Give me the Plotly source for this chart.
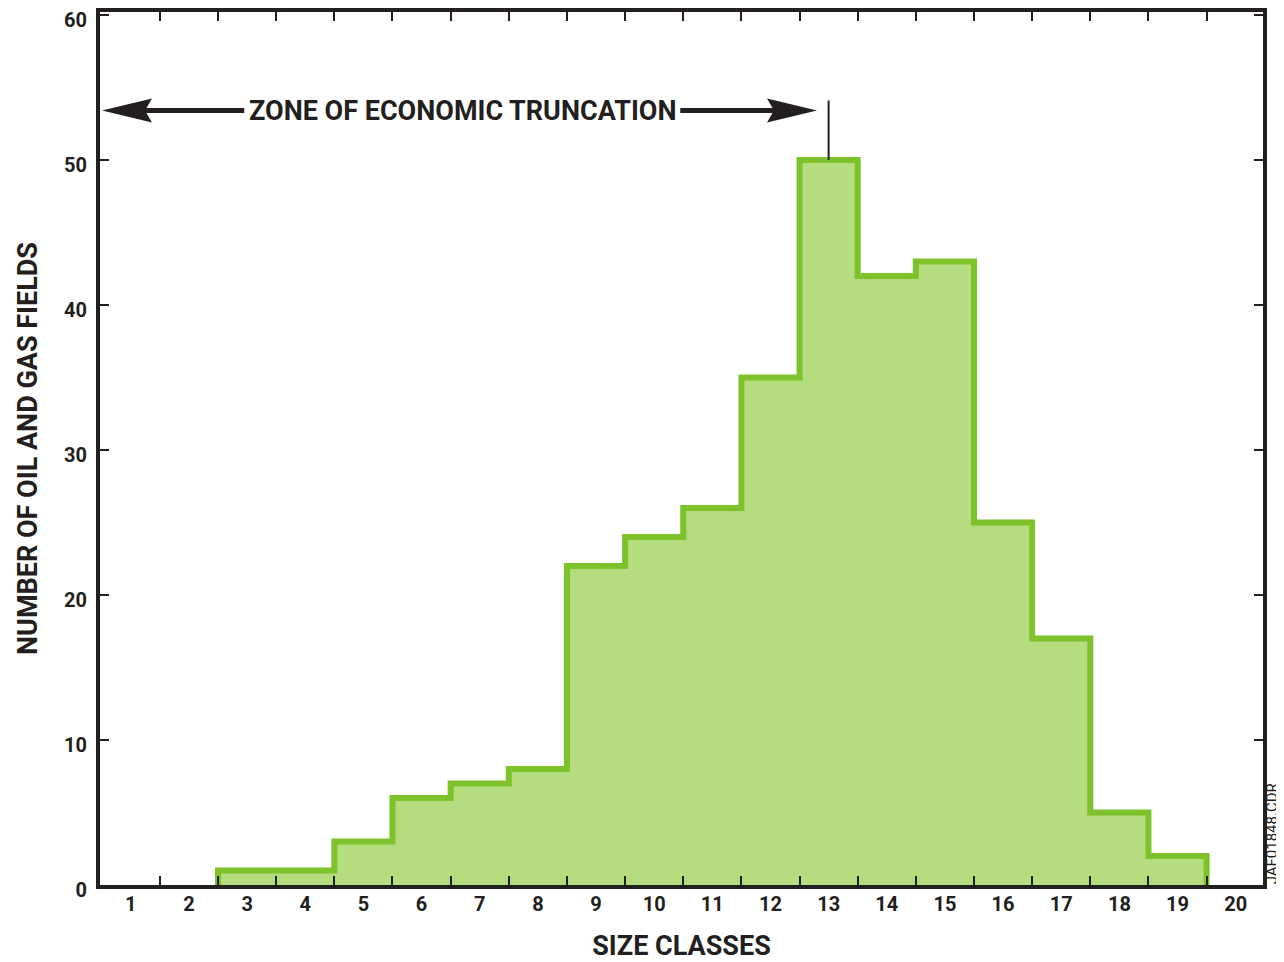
import plotly.graph_objects as go

# ---- data ----
size_classes = list(range(1, 21))
field_counts = [0, 0, 1, 1, 3, 6, 7, 8, 22, 24, 26, 35, 50, 42, 43, 25, 17, 5, 2, 0]
y_ticks = [0, 10, 20, 30, 40, 50, 60]
x_tick_labels = [str(c) for c in size_classes]

zone_label = "ZONE OF ECONOMIC TRUNCATION"
zone_end_class = 13
watermark = "JAF01848.CDR"

# ---- styles ----
INK = "#231f20"
GREEN_LINE = "#7dc22b"
GREEN_FILL = "#b6dc80"
FONT = "Roboto, Liberation Sans, sans-serif"

# build step outline from class counts (bin edges at +/- 0.5)
nonzero = [i for i, v in enumerate(field_counts) if v > 0]
first, last = nonzero[0], nonzero[-1]
xs = [size_classes[first] - 0.5]
ys = [0]
for i in range(first, last + 1):
    c, v = size_classes[i], field_counts[i]
    xs += [c - 0.5, c + 0.5]
    ys += [v, v]
xs += [size_classes[last] + 0.5]
ys += [0]

fig = go.Figure()
fig.add_trace(go.Scatter(
    x=xs, y=ys, mode="lines", fill="tozeroy",
    fillcolor=GREEN_FILL,
    line=dict(color=GREEN_LINE, width=6, shape="linear"),
    hoverinfo="skip", showlegend=False,
))
fig.add_trace(go.Scatter(x=size_classes, y=field_counts, xaxis="x2",
                         mode="markers", marker=dict(opacity=0),
                         hoverinfo="skip", showlegend=False))

X_RANGE = [0.47, 20.47]
Y_RANGE = [0, 60.2]
boundaries = [c + 0.5 for c in size_classes[:-1]]

fig.update_layout(
    template="none",
    width=1276, height=954,
    margin=dict(l=92, r=21, t=4, b=77),
    paper_bgcolor="white", plot_bgcolor="white",
    font=dict(family=FONT, color=INK),
    xaxis=dict(
        range=X_RANGE, tickvals=boundaries, showticklabels=False,
        ticks="inside", ticklen=9, tickwidth=2, tickcolor=INK,
        showline=True, linewidth=4, linecolor=INK, mirror="ticks",
        showgrid=False, zeroline=False, automargin=False,
    ),
    xaxis2=dict(
        range=X_RANGE, overlaying="x", side="bottom", anchor="y",
        tickvals=size_classes, ticktext=x_tick_labels, ticks="",
        ticklabelstandoff=5, automargin=False,
        tickfont=dict(size=20, family=FONT, weight="bold", color=INK),
        showline=False, showgrid=False, zeroline=False,
        title=dict(text="SIZE CLASSES", standoff=22,
                   font=dict(size=27, family=FONT, weight="bold", color=INK)),
    ),
    yaxis=dict(
        range=Y_RANGE, tickvals=y_ticks,
        ticks="inside", ticklen=9, tickwidth=2, tickcolor=INK,
        ticklabelstandoff=5, ticklabelshift=5, ticklabeloverflow="allow",
        automargin=False,
        tickfont=dict(size=20, family=FONT, weight="bold", color=INK),
        showline=True, linewidth=4, linecolor=INK, mirror="ticks",
        showgrid=False, zeroline=False,
        title=dict(text="NUMBER OF OIL AND GAS FIELDS", standoff=20,
                   font=dict(size=27, family=FONT, weight="bold", color=INK)),
    ),
)

# ---- zone of economic truncation annotation ----
px_per_x = 1163 / (X_RANGE[1] - X_RANGE[0])
px_per_y = 873 / (Y_RANGE[1] - Y_RANGE[0])
ARROW_Y = 53.4
head_len = 50 / px_per_x
head_half = 12 / px_per_y
notch = 7 / px_per_x
left_tip = X_RANGE[0] + 2 / px_per_x
right_tip = zone_end_class - 0.2
label_center = 6.70
text_half = 218 / px_per_x

def head(tip, direction):
    back = tip + direction * head_len
    nt = tip + direction * (head_len - notch)
    return (f"M {tip},{ARROW_Y} L {back},{ARROW_Y + head_half} "
            f"L {nt},{ARROW_Y} L {back},{ARROW_Y - head_half} Z")

fig.add_shape(type="path", path=head(left_tip, 1), fillcolor=INK, line=dict(width=0))
fig.add_shape(type="path", path=head(right_tip, -1), fillcolor=INK, line=dict(width=0))
fig.add_shape(type="line", x0=left_tip + head_len - notch, x1=label_center - text_half,
              y0=ARROW_Y, y1=ARROW_Y, line=dict(color=INK, width=5))
fig.add_shape(type="line", x0=label_center + text_half, x1=right_tip - head_len + notch,
              y0=ARROW_Y, y1=ARROW_Y, line=dict(color=INK, width=5))
fig.add_shape(type="line", x0=zone_end_class, x1=zone_end_class,
              y0=ARROW_Y + 0.7, y1=field_counts[size_classes.index(zone_end_class)],
              line=dict(color=INK, width=2))
fig.add_annotation(x=label_center, y=ARROW_Y, text=zone_label, showarrow=False,
                   font=dict(size=27, family=FONT, weight="bold", color=INK),
                   xanchor="center", yanchor="middle")

fig.add_annotation(xref="paper", yref="paper", x=1.0, xshift=9, y=0.058, text=watermark,
                   textangle=-90, showarrow=False,
                   font=dict(size=15, family=FONT, color=INK),
                   xanchor="center", yanchor="middle")

fig.write_html("out.html")
